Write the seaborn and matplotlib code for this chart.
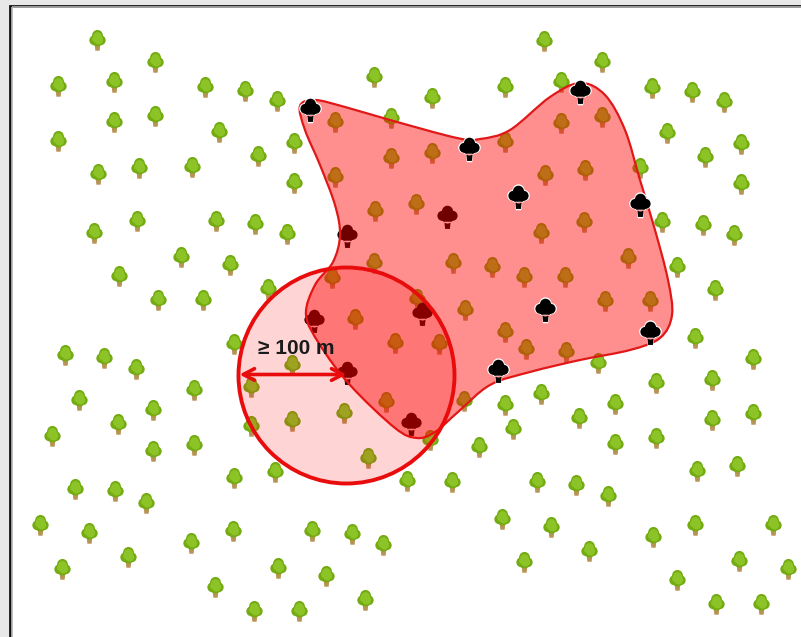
import numpy as np
import matplotlib.pyplot as plt
import seaborn as sns
from matplotlib.path import Path
from matplotlib.patches import PathPatch, Circle, Rectangle

# everything below is in image pixels
green_x = [97, 155, 58, 114, 205, 245, 277, 155, 114, 58, 219, 294, 258, 192, 139, 98, 294, 216, 137, 255, 94, 287, 181, 230, 119, 268, 158, 203,
           374, 432, 391, 544, 602, 561, 505, 652, 692, 724, 667, 741, 705, 640, 741, 662, 703, 734, 677, 715, 695, 753, 598, 656, 712, 541, 505, 615, 579, 712, 753, 513, 656, 615, 479, 697, 737,
           452, 407, 537, 576, 608, 502, 551, 653, 695, 773, 589, 524, 739, 788, 677, 716, 761, 365, 299, 254, 215, 278, 326, 383, 352, 312, 233, 191, 128, 62, 89, 40, 146, 115, 75, 234, 275,
           194, 153, 52, 118, 153, 79, 194, 136, 104, 65, 234, 292, 251, 251, 292, 344, 368,
           335, 391, 432, 505, 561, 602, 585, 545, 335, 375, 416, 584, 541, 374, 453, 492, 524, 565, 628, 332, 605, 650, 465, 505, 355, 395, 439, 526, 566, 417, 386, 464, 430]
green_y = [40, 62, 86, 82, 87, 91, 101, 116, 122, 141, 132, 143, 156, 167, 168, 174, 183, 221, 221, 224, 233, 234, 257, 265, 276, 289, 300, 300,
           77, 98, 118, 41, 62, 82, 87, 88, 92, 102, 133, 144, 157, 168, 184, 222, 225, 235, 267, 290, 338, 359, 363, 383, 380, 394, 405, 404, 418, 420, 414, 429, 438, 444, 447, 471, 466,
           482, 481, 482, 485, 496, 519, 527, 537, 525, 525, 551, 562, 561, 569, 580, 604, 604, 600, 611, 611, 587, 568, 576, 545, 534, 531, 531, 543, 557, 569, 533, 525, 503, 491, 489, 478, 472,
           445, 451, 436, 424, 410, 400, 390, 369, 358, 355, 344, 365, 387, 426, 421, 413, 458,
           122, 158, 153, 142, 123, 117, 170, 175, 177, 211, 204, 222, 233, 263, 263, 267, 277, 277, 258, 278, 301, 301, 310, 332, 319, 343, 344, 349, 352, 299, 402, 401, 440]

black_x = [310, 469, 580, 518, 640, 545, 650, 498]
black_y = [110, 149, 92, 197, 205, 310, 333, 371]
covered_x = [347, 447, 314, 422, 347, 411]
covered_y = [236, 217, 321, 314, 373, 424]

blob_x = [300, 315, 345, 390, 457, 480, 510, 550, 580, 605, 625, 640, 655, 668, 672, 660, 630, 580, 530, 490, 458, 435, 417, 395, 350, 320, 306, 315, 333, 340, 335, 320, 305]
blob_y = [106, 100, 107, 120, 138, 139, 130, 97, 83, 95, 130, 180, 230, 280, 315, 338, 350, 360, 372, 385, 412, 432, 438, 428, 385, 345, 315, 285, 262, 235, 205, 165, 130]

circle_x, circle_y, circle_r = 346.5, 375.5, 108
label = '≥ 100 m'


def closed_spline(xs, ys):
    # catmull-rom through the outline points, as bezier segments
    pts = np.column_stack([xs, ys]).astype(float)
    n = len(pts)
    verts = [pts[0]]
    codes = [Path.MOVETO]
    for i in range(n):
        p0, p1, p2, p3 = pts[i - 1], pts[i], pts[(i + 1) % n], pts[(i + 2) % n]
        verts += [p1 + (p2 - p0) / 6, p2 - (p3 - p1) / 6, p2]
        codes += [Path.CURVE4] * 3
    return Path(verts, codes)


def blobs(parts):
    # the (0, 1) / (0, -1) moves keep every layer on the same marker scale
    paths = [Path([(0, 1), (0, -1)], [Path.MOVETO, Path.MOVETO])]
    for cx, cy, r in parts:
        c = Path.unit_circle()
        paths.append(Path(c.vertices * r + [cx, cy], c.codes))
    return Path.make_compound_path(*paths)


trunk = Path([(0, 1), (0, -1), (-0.26, -0.35), (0.26, -0.35), (0.2, -0.95), (-0.2, -0.95), (-0.26, -0.35)],
             [Path.MOVETO, Path.MOVETO, Path.MOVETO, Path.LINETO, Path.LINETO, Path.LINETO, Path.CLOSEPOLY])
crown = blobs([(0, 0.48, 0.5), (-0.3, 0.02, 0.46), (0.3, 0.02, 0.46), (0, -0.05, 0.5)])
shine = blobs([(0, 0.38, 0.4), (0.1, 0.05, 0.42), (-0.2, 0.15, 0.3)])
bush = blobs([(0, 0.52, 0.46), (-0.42, 0.14, 0.42), (0.42, 0.14, 0.42), (0, -0.05, 0.45)])
solid = Path.make_compound_path(bush, trunk)

sns.set_style('white')
fig = plt.figure(figsize=(8.01, 6.37), dpi=100, facecolor='#e8e8e8')
ax = fig.add_axes([0, 0, 1, 1])
ax.set_xlim(0, 801)
ax.set_ylim(637, 0)
ax.axis('off')

ax.add_patch(Rectangle((10, 6), 800, 640, fc='white', ec='#111111', lw=2, zorder=0))
ax.add_patch(Rectangle((12, 7), 800, 640, fc='none', ec='#b4b4b4', lw=1.2, zorder=0.5))

s_green = 240
s_black = 300
sns.scatterplot(x=green_x, y=green_y, marker=trunk, s=s_green, color='#b79455', linewidth=0, ax=ax, zorder=2)
sns.scatterplot(x=green_x, y=green_y, marker=crown, s=s_green, color='#74ab12', linewidth=0, ax=ax, zorder=3)
sns.scatterplot(x=green_x, y=green_y, marker=shine, s=s_green, color='#8cc428', linewidth=0, ax=ax, zorder=4)
sns.scatterplot(x=covered_x, y=covered_y, marker=solid, s=s_black, color='black', linewidth=0, ax=ax, zorder=5)

ax.add_patch(PathPatch(closed_spline(blob_x, blob_y), fc=(1, 0, 0, 0.44), ec='#e01818', lw=1.6, zorder=6))
ax.add_patch(Circle((circle_x, circle_y), circle_r, fc=(1, 0, 0, 0.17), ec='#e80c0c', lw=2.8, zorder=7))

# white halo first, the black tree on top of it
sns.scatterplot(x=black_x, y=black_y, marker=solid, s=s_black * 1.25, color='white', linewidth=0, ax=ax, zorder=8)
sns.scatterplot(x=black_x, y=black_y, marker=solid, s=s_black, color='black', linewidth=0, ax=ax, zorder=9)

ax.annotate('', xy=(circle_x - circle_r + 1, circle_y - 1), xytext=(circle_x, circle_y - 1), zorder=10,
            arrowprops=dict(arrowstyle='<->,head_length=0.8,head_width=0.42', color='#e80c0c', lw=2.6, shrinkA=0, shrinkB=0))
ax.text(296, 349, label, ha='center', va='center', fontsize=15, fontweight='bold',
        family=['Liberation Sans', 'DejaVu Sans'], color='#1a1a1a', zorder=11)

fig.savefig('out.png', dpi=100)
